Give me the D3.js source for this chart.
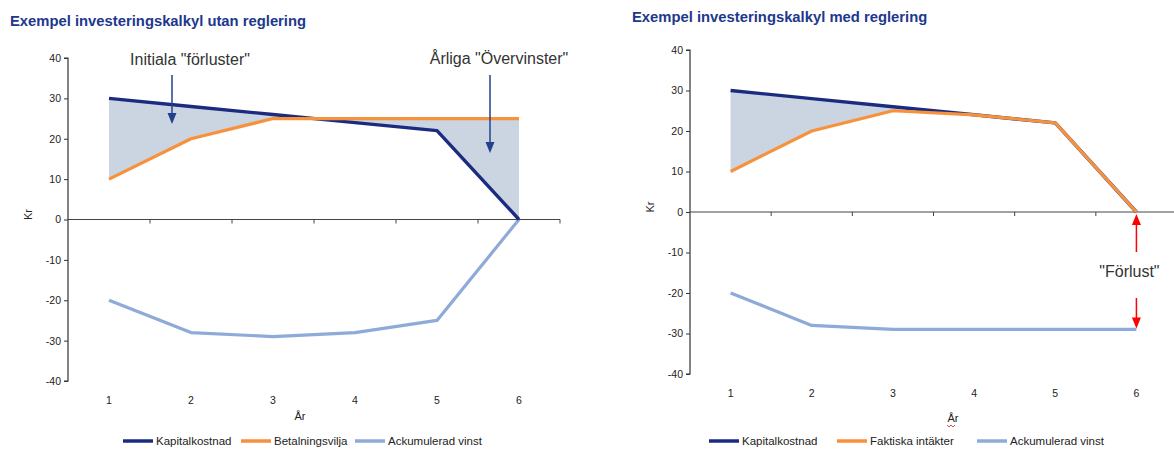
<!DOCTYPE html>
<html>
<head>
<meta charset="utf-8">
<script src="https://cdn.jsdelivr.net/npm/d3@7"></script>
<style>
  html, body { margin: 0; padding: 0; background: #fff; }
  svg { display: block; font-family: "Liberation Sans", Arial, sans-serif; }
</style>
</head>
<body>
<svg id="chart" width="1174" height="450"></svg>
<script>
// Years and series values (kr)
const years = ["1", "2", "3", "4", "5", "6"];
const yTicks = [-40, -30, -20, -10, 0, 10, 20, 30, 40];

// Without regulation
const kapitalkostnadA = [30, 28, 26, 24, 22, 0];
const betalningsvilja = [10, 20, 25, 25, 25, 25];
const ackumuleradA = [-20, -28, -29, -28, -25, 0];

// With regulation
const kapitalkostnadB = [30, 28, 26, 24, 22, 0];
const faktiskaIntakter = [10, 20, 25, 24, 22, 0];
const ackumuleradB = [-20, -28, -29, -29, -29, -29];

const NAVY = "#1b2c80", ORANGE = "#f7923c", LIGHT = "#8eaad8", FILL = "#cbd5e2";

const svg = d3.select("#chart");

function panel(cfg) {
  const g = svg.append("g");
  const x = d3.scaleBand().domain(years).range([cfg.left, cfg.right]).padding(0);
  const cx = d => x(d) + x.bandwidth() / 2;
  const y = d3.scaleLinear().domain([-40, 40]).range([cfg.bottom, cfg.top]);

  // title
  g.append("text").attr("x", cfg.titleX).attr("y", cfg.titleY)
    .attr("font-size", 14.8).attr("font-weight", "bold").attr("fill", "#20388c")
    .text(cfg.title);

  // shaded gap between cost and revenue
  const area = d3.area()
    .x((d, i) => cx(years[i]))
    .y0((d, i) => y(cfg.cost[i]))
    .y1((d, i) => y(cfg.revenue[i]));
  g.append("path").datum(cfg.cost).attr("d", area).attr("fill", FILL);

  // y axis
  const yAxis = g.append("g").attr("transform", `translate(${cfg.left},0)`)
    .call(d3.axisLeft(y).tickValues(yTicks).tickSize(4).tickPadding(3).tickFormat(d => String(d)));
  yAxis.select(".domain").attr("stroke", "#333").attr("stroke-width", 1.2)
    .attr("d", `M-4,${y(40)}H0V${y(-40)}H-4`);
  yAxis.selectAll(".tick line").attr("stroke", "#333");
  yAxis.selectAll(".tick text").attr("font-size", 10.5).attr("fill", "#222")
    .attr("font-family", "Liberation Sans, Arial, sans-serif");

  // zero line with band-edge tick marks
  g.append("line").attr("x1", cfg.left).attr("x2", cfg.axisEnd)
    .attr("y1", y(0)).attr("y2", y(0)).attr("stroke", "#444").attr("stroke-width", 1.2);
  const edges = years.map(d => x(d) + x.bandwidth());
  g.selectAll(".edge").data(edges).enter().append("line")
    .attr("x1", d => d).attr("x2", d => d)
    .attr("y1", y(0)).attr("y2", y(0) + 4).attr("stroke", "#444").attr("stroke-width", 1);

  // category labels at the bottom
  const xAxis = g.append("g").attr("transform", `translate(0,${cfg.labelY})`)
    .call(d3.axisBottom(x).tickSize(0).tickPadding(0));
  xAxis.select(".domain").remove();
  xAxis.selectAll(".tick text").attr("font-size", 10.5).attr("fill", "#222")
    .attr("font-family", "Liberation Sans, Arial, sans-serif").attr("dy", "0.35em");

  // axis titles
  g.append("text").attr("x", cfg.arX).attr("y", cfg.arY).attr("text-anchor", "middle")
    .attr("font-size", 11).attr("fill", "#222").attr("dy", "0.35em").text("År");
  g.append("text").attr("transform", `translate(${cfg.left - 40},${y(0) - 5}) rotate(-90)`)
    .attr("text-anchor", "middle").attr("font-size", 11).attr("fill", "#222")
    .attr("dy", "0.35em").text("Kr");

  // series lines
  const line = d3.line().x((d, i) => cx(years[i])).y(d => y(d));
  g.append("path").datum(cfg.accum).attr("d", line).attr("fill", "none")
    .attr("stroke", LIGHT).attr("stroke-width", 3.2).attr("stroke-linejoin", "round");
  g.append("path").datum(cfg.cost).attr("d", line).attr("fill", "none")
    .attr("stroke", NAVY).attr("stroke-width", 3.4).attr("stroke-linejoin", "round");
  g.append("path").datum(cfg.revenue).attr("d", line).attr("fill", "none")
    .attr("stroke", ORANGE).attr("stroke-width", 3.2).attr("stroke-linejoin", "round");

  // legend
  const names = ["Kapitalkostnad", cfg.revenueName, "Ackumulerad vinst"];
  const cols = [NAVY, ORANGE, LIGHT];
  names.forEach((n, i) => {
    const lx = cfg.legendX[i];
    g.append("line").attr("x1", lx).attr("x2", lx + 30)
      .attr("y1", cfg.legendY).attr("y2", cfg.legendY)
      .attr("stroke", cols[i]).attr("stroke-width", 3.5);
    g.append("text").attr("x", lx + 33).attr("y", cfg.legendY).attr("dy", "0.35em")
      .attr("font-size", 11.5).attr("fill", "#222").text(n);
  });

  return { x: cx, y };
}

function arrow(g, x0, y0, x1, y1, color) {
  const dir = Math.sign(y1 - y0);
  g.append("line").attr("x1", x0).attr("x2", x1).attr("y1", y0).attr("y2", y1 - dir * 9)
    .attr("stroke", color).attr("stroke-width", 1.5);
  g.append("path")
    .attr("d", `M${x1},${y1}L${x1 - 4.5},${y1 - dir * 11}L${x1 + 4.5},${y1 - dir * 11}Z`)
    .attr("fill", color);
}

const A = panel({
  title: "Exempel investeringskalkyl utan reglering", titleX: 10, titleY: 26,
  left: 68, right: 560, axisEnd: 560, top: 58, bottom: 381,
  cost: kapitalkostnadA, revenue: betalningsvilja, accum: ackumuleradA,
  revenueName: "Betalningsvilja",
  labelY: 400, arX: 300, arY: 416, legendY: 441, legendX: [123, 241, 355]
});

const B = panel({
  title: "Exempel investeringskalkyl med reglering", titleX: 632, titleY: 22,
  left: 690, right: 1177, axisEnd: 1174, top: 50, bottom: 374,
  cost: kapitalkostnadB, revenue: faktiskaIntakter, accum: ackumuleradB,
  revenueName: "Faktiska intäkter",
  labelY: 393, arX: 953, arY: 418, legendY: 441, legendX: [709, 837, 977]
});

// annotations, left panel
const ann = svg.append("g");
ann.append("text").attr("x", 190).attr("y", 59).attr("dy", "0.35em").attr("text-anchor", "middle")
  .attr("font-size", 16).attr("fill", "#333").text("Initiala \"förluster\"");
arrow(ann, 172, 75, 172, 124, "#23408f");
ann.append("text").attr("x", 499).attr("y", 58).attr("dy", "0.35em").attr("text-anchor", "middle")
  .attr("font-size", 16).attr("fill", "#333").text("Årliga \"Övervinster\"");
arrow(ann, 490, 75, 490, 153, "#23408f");

// annotation, right panel: the loss between revenue end and accumulated result
const lx = B.x("6");
arrow(ann, lx, 252, lx, B.y(0) + 2, "#ff0000");
arrow(ann, lx, 298, lx, B.y(ackumuleradB[5]) - 1, "#ff0000");
ann.append("text").attr("x", lx - 7).attr("y", 271).attr("dy", "0.35em").attr("text-anchor", "middle")
  .attr("font-size", 16).attr("fill", "#333").text("\"Förlust\"");

// spell-check squiggle under the right axis title
ann.append("path").attr("d", "M947,425 l2,2 l2,-2 l2,2 l2,-2")
  .attr("fill", "none").attr("stroke", "#e02020").attr("stroke-width", 0.8);
</script>
</body>
</html>
